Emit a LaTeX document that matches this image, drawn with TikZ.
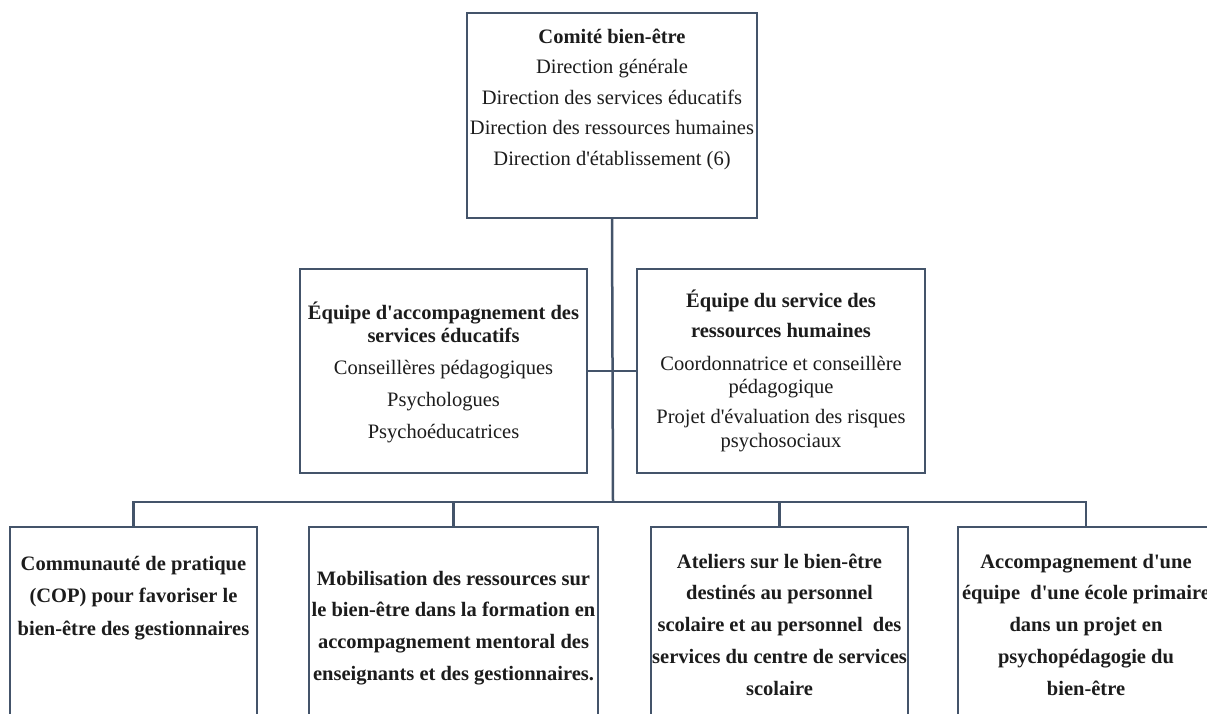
\documentclass[tikz,border=0pt]{standalone}
\usepackage{fontspec}
\setmainfont{Liberation Serif}
\newcommand\ap{\textquotesingle}
\newcommand\hs{\rule{0pt}{22pt}}
\definecolor{lnc}{HTML}{44546A}
\definecolor{txc}{HTML}{1C1C1C}
\begin{document}
\begin{tikzpicture}[x=1pt,y=-1pt,
  box/.style={draw=lnc, line width=2.5pt, inner sep=0pt, outer sep=0pt, fill=white},
  conn/.style={draw=lnc, line width=2.5pt},
  txt/.style={anchor=north, inner sep=0pt, align=center, text=txc, font=\fontsize{20.5}{#1}\selectfont},
  btxt/.style={anchor=north, inner sep=0pt, align=center, text=txc, font=\fontsize{20.5}{#1}\selectfont\bfseries},
]
\useasboundingbox (0,0) rectangle (1207,713);
\fill[white] (0,0) rectangle (1207,713);
\clip (0,0) rectangle (1207,713);

% boxes
\node[box, minimum width=290pt, minimum height=205pt] (top) at (612,115.5) {};
\node[box, minimum width=287pt, minimum height=204pt] (midL) at (443.5,371) {};
\node[box, minimum width=288pt, minimum height=204pt] (midR) at (781,371) {};
\node[box, minimum width=247pt, minimum height=233pt] (b1) at (133.5,643.5) {};
\node[box, minimum width=289pt, minimum height=233pt] (b2) at (453.5,643.5) {};
\node[box, minimum width=257pt, minimum height=233pt] (b3) at (779.5,643.5) {};
\node[box, minimum width=256pt, minimum height=233pt] (b4) at (1086,643.5) {};

% connectors
\coordinate (bus) at (613,502);
\draw[conn] (top.south) -- (bus);
\draw[conn] (midL.east) -- (midR.west);
\draw[conn] (b1.north) |- (bus) -| (b4.north);
\draw[conn] (b2.north) |- (bus);
\draw[conn] (b3.north) |- (bus);

% texts
\node[txt=30.5] (t0) at (612,21) {\hs\textbf{Comité bien-être}\\Direction générale\\Direction des services éducatifs\\Direction des ressources humaines\\Direction d\ap établissement (6)};
\node[txt=32] (t1) at (443.5,297) {\hs\textbf{Équipe d\ap accompagnement des}\\[-9pt]\textbf{services éducatifs}\\Conseillères pédagogiques\\Psychologues\\Psychoéducatrices};
\node[txt=30] (t2) at (781,285) {\hs\textbf{Équipe du service des}\\\textbf{ressources humaines}\\[3pt]Coordonnatrice et conseillère\\[-7pt]pédagogique\\Projet d\ap évaluation des risques\\[-6pt]psychosociaux};
\node[btxt=32.5] (t3) at (133.5,548) {\hs Communauté de pratique\\(COP) pour favoriser le\\bien-être des gestionnaires};
\node[btxt=31.7] (t4) at (453.5,563) {\hs Mobilisation des ressources sur\\le bien-être dans la formation en\\accompagnement mentoral des\\enseignants et des gestionnaires.};
\node[btxt=31.75] (t5) at (779.5,546) {\hs Ateliers sur le bien-être\\destinés au personnel\\scolaire et au personnel~ des\\services du centre de services\\scolaire};
\node[btxt=31.75] (t6) at (1086,546) {\hs Accompagnement d\ap une\\équipe~ d\ap une école primaire\\dans un projet en\\psychopédagogie du\\bien-être};
\end{tikzpicture}
\end{document}
